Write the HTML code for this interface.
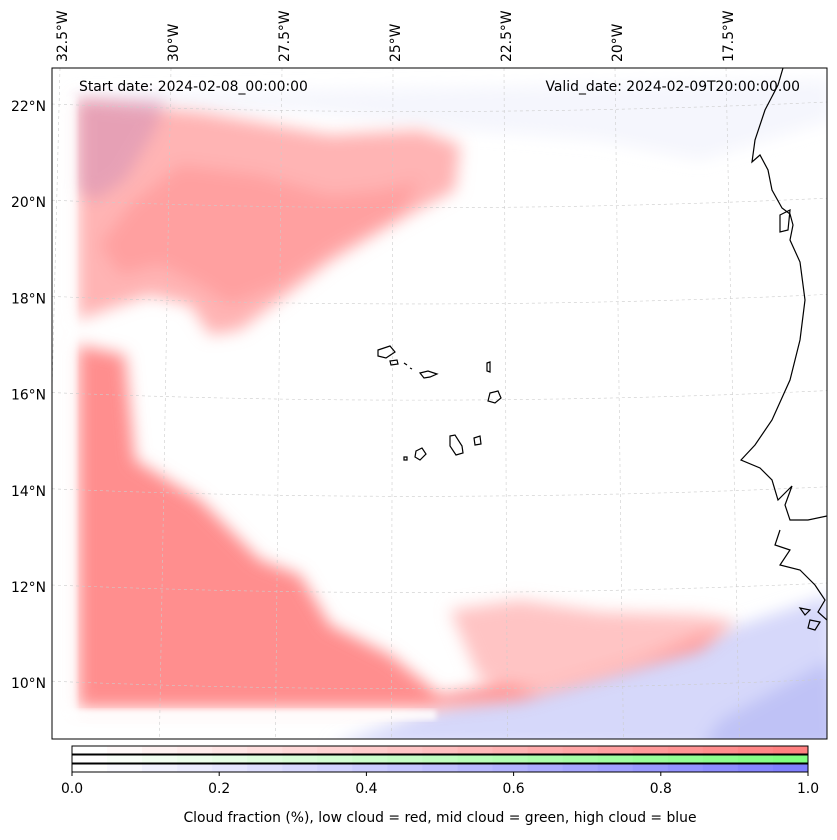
<!DOCTYPE html>
<html><head><meta charset="utf-8">
<style>
html,body{margin:0;padding:0;background:#fff;}
body{width:837px;height:836px;overflow:hidden;font-family:"DejaVu Sans","Liberation Sans",sans-serif;}
</style></head>
<body>
<svg id="fig" width="837" height="836" viewBox="0 0 837 836" xmlns="http://www.w3.org/2000/svg">
<defs>
<filter id="bl" x="-20%" y="-20%" width="140%" height="140%"><feGaussianBlur stdDeviation="8"/></filter>
<filter id="bl2" x="-20%" y="-20%" width="140%" height="140%"><feGaussianBlur stdDeviation="3"/></filter>
<clipPath id="mapclip"><rect x="52" y="68" width="775" height="671"/></clipPath>
</defs>
<g id="map" clip-path="url(#mapclip)">
 <rect x="52" y="68" width="775" height="671" fill="#fff"/>
 <g filter="url(#bl)">
  <path d="M75 95 L830 80 L830 120 L700 160 L600 140 L470 130 L300 110 L75 110Z" fill="#eceefc" opacity="0.5"/>
  <path d="M330 745 L450 705 L600 670 L740 625 L830 595 L840 750Z" fill="#d6d8fa"/>
  <path d="M720 720 L830 660 L840 750 L700 750Z" fill="#bfc2f6"/>
 </g>
 <g filter="url(#bl)">
  <path d="M78 100 L200 112 L330 135 L420 130 L460 145 L455 190 L400 220 L330 262 L280 300 L240 330 L210 335 L190 305 L150 295 L120 305 L78 320Z" fill="#ffb4b4"/>
  <path d="M180 165 L260 175 L330 195 L380 190 L420 180 L400 215 L340 245 L280 285 L230 305 L200 285 L160 265 L120 275 L100 245 L130 205Z" fill="#ffa0a0"/>
  <path d="M78 345 L125 355 L135 460 L200 500 L260 560 L300 575 L330 625 L390 655 L440 695 L600 665 L735 622 L700 650 L520 700 L430 708 L78 708Z" fill="#ff8e8e"/>
  <path d="M450 610 L520 600 L600 612 L700 615 L735 622 L640 660 L540 690 L480 680 Z" fill="#ffc4c4"/>
 </g>
 <path d="M78 100 L165 100 L155 130 L125 180 L95 200 L78 190Z" fill="#c98ab8" opacity="0.45" filter="url(#bl)"/>
 <rect x="56" y="710" width="380" height="10" fill="#fff" opacity="0.85" filter="url(#bl2)"/>
 <rect x="62" y="95" width="14" height="620" fill="#fff" opacity="0.7" filter="url(#bl2)"/>
 <g id="grid" stroke="#ccc" stroke-width="0.6" stroke-dasharray="3,3" fill="none"></g>
 <g fill="none" stroke="#000" stroke-width="1.2">
  <path d="M783 68 L778 85 L765 110 L755 140 L752 162 L760 155 L768 170 L772 190 L782 208 L790 214 L793 225 L790 240 L800 262 L805 300 L800 340 L790 380 L772 420 L755 445 L741 460 L760 468 L772 480 L778 500 L792 486 L785 505 L790 520 L808 520 L827 516"/>
  <path d="M780 530 L775 545 L790 550 L780 565 L800 570 L815 585 L825 600 L818 612 L827 620"/>
  <path d="M780 215 L790 210 L788 230 L780 232Z"/>
  <path d="M800 608 L810 610 L805 615Z M810 620 L820 622 L815 630 L808 628Z"/>
  <path d="M378 350 L390 346 L395 352 L386 358 L378 356Z"/>
  <path d="M390 361 L397 360 L398 364 L391 365Z"/>
  <path d="M420 373 L428 371 L437 374 L430 377 L424 378Z"/>
  <path d="M487 363 L490 362 L490 372 L487 371Z"/>
  <path d="M490 393 L498 391 L501 398 L495 403 L488 401Z"/>
  <path d="M450 436 L455 435 L462 446 L463 453 L456 455 L450 446Z"/>
  <path d="M474 438 L480 436 L481 444 L475 445Z"/>
  <path d="M416 451 L422 448 L426 454 L420 460 L415 457Z"/>
  <path d="M404 457 L407 457 L407 460 L404 460Z"/>
  <path d="M404 363 L407 365 M410 368 L412 369"/>
 </g>
</g>
<rect x="52" y="68" width="775" height="671" fill="none" stroke="#000" stroke-width="1"/>
<text x="79" y="91" font-size="13.9">Start date: 2024-02-08_00:00:00</text>
<text x="800" y="91" font-size="13.9" text-anchor="end">Valid_date: 2024-02-09T20:00:00.00</text>
<g id="ticks"></g>
<g id="cbar"></g>
<text x="440" y="822" font-size="13.9" text-anchor="middle">Cloud fraction (%), low cloud = red, mid cloud = green, high cloud = blue</text>
</svg>
<script>
const latTicks = [22, 20, 18, 16, 14, 12, 10];
const lonTicks = [-32.5, -30, -27.5, -25, -22.5, -20, -17.5];
const cbarTicks = [0.0, 0.2, 0.4, 0.6, 0.8, 1.0];
const cbarLevels = 21;
const NS = "http://www.w3.org/2000/svg";
function yLat(lat){ return 106 + (22 - lat) * 48.1; }
function xLon(lon){ return 62 + (lon + 32.5) * 44.4; }
function el(tag, attrs, parent){ const e=document.createElementNS(NS,tag); for(const k in attrs) e.setAttribute(k,attrs[k]); parent.appendChild(e); return e; }
const grid=document.getElementById('grid'), ticks=document.getElementById('ticks'), cb=document.getElementById('cbar');
latTicks.forEach(l=>{
  const y=yLat(l);
  const p=el('path',{d:`M52 ${y-2} Q440 ${y+14} 827 ${y-4}`},grid);
  
  
  const t=el('text',{x:46,y:y+5,'font-size':13.9,'text-anchor':'end'},ticks);
  t.textContent=l+'°N';
  
  
});
lonTicks.forEach(l=>{
  const x=xLon(l);
  const shift=(x-430)*0.045;
  const p=el('line',{x1:x-2,y1:68,x2:x-2+shift,y2:739},grid);
  
  
  const t=el('text',{x:0,y:0,'font-size':13.9,transform:`translate(${x+5},62) rotate(-90)`},ticks);
  t.textContent=Math.abs(l)+'°W';
  
  
});
const cx0=72, cx1=808, rows=[[255,128,128],[128,255,128],[128,128,255]];
rows.forEach((c,ri)=>{
  const y=746+ri*9;
  for(let i=0;i<cbarLevels;i++){
    const f=i/(cbarLevels-1);
    const col=c.map(v=>Math.round(255-(255-v)*f));
    const w=(cx1-cx0)/cbarLevels;
    const r=el('rect',{x:cx0+i*w,y:y,width:w+0.5,height:8,fill:`rgb(${col})`},cb);
    
    
  }
  const o=el('rect',{x:cx0,y:y,width:cx1-cx0,height:8,fill:'none',stroke:'#000','stroke-width':1},cb);
  
  
});
cbarTicks.forEach(v=>{
  const x=cx0+v*(cx1-cx0);
  el('line',{x1:x,y1:772,x2:x,y2:776,stroke:'#000'},cb);
  const t=el('text',{x:x,y:793,'font-size':13.9,'text-anchor':'middle'},cb);
  t.textContent=v.toFixed(1);
  
  
});
</script>
</body></html>
